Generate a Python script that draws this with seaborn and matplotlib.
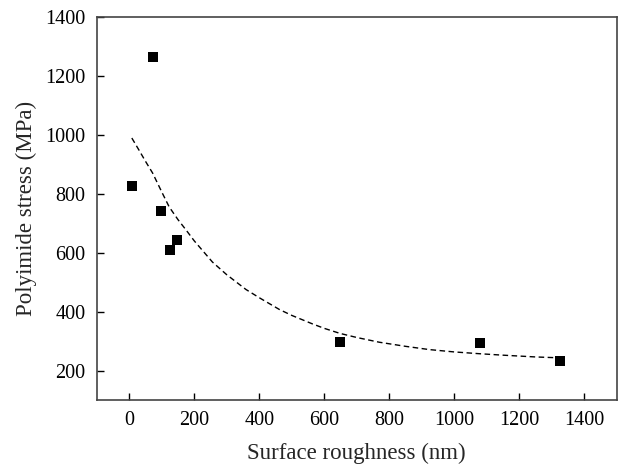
import matplotlib
matplotlib.use('Agg')
import matplotlib.pyplot as plt
import pandas as pd
import seaborn as sns

roughness = [8, 72, 99, 125, 148, 648, 1079, 1325]
stress = [826, 1264, 741, 610, 642, 296, 294, 231]

# Dashed trend curve
curve_x = [8, 30, 50, 72, 100, 123, 150, 174, 200, 256, 300, 359, 400, 462,
           500, 564, 600, 648, 700, 769, 850, 923, 1000, 1077, 1150, 1200, 1250, 1323]
curve_y = [989, 948, 910, 870, 806, 755, 712, 678, 640, 568, 525, 475, 447, 407,
           387, 358, 343, 326, 312, 296, 282, 271, 263, 257, 252, 249, 246, 243]

df_pts = pd.DataFrame({'Surface roughness (nm)': roughness, 'Polyimide stress (MPa)': stress})
df_fit = pd.DataFrame({'x': curve_x, 'y': curve_y})

sns.set_style('white')
plt.rcParams['font.family'] = ['Liberation Serif', 'DejaVu Serif']

fig = plt.figure(figsize=(6.2, 4.7), dpi=100)
ax = fig.add_axes([0.156, 0.149, 0.839, 0.815])

sns.lineplot(data=df_fit, x='x', y='y', ax=ax, color='black', linestyle='--',
             linewidth=1.0, sort=False)
ax.lines[-1].set_dashes((4, 2.5))
sns.scatterplot(data=df_pts, x='Surface roughness (nm)', y='Polyimide stress (MPa)',
                ax=ax, marker='s', s=48, color='black', edgecolor='black', linewidth=0)

ax.set_xlim(-100, 1500)
ax.set_ylim(100, 1400)
ax.set_xticks(range(0, 1401, 200))
ax.set_yticks(range(200, 1401, 200))

ax.set_xlabel('Surface roughness (nm)', fontsize=16.5, labelpad=9)
ax.set_ylabel('Polyimide stress (MPa)', fontsize=16.5, labelpad=6)
ax.tick_params(axis='both', direction='in', length=5, width=1, labelsize=14.5,
               colors='black', top=False, right=False, bottom=True, left=True, pad=8)
for sp in ax.spines.values():
    sp.set_color('#444444')
    sp.set_linewidth(1.2)

fig.savefig('out.png', dpi=100)
plt.close(fig)
